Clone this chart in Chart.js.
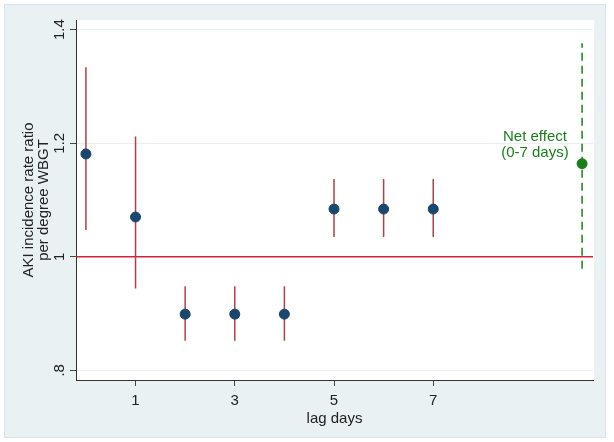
<!DOCTYPE html>
<html>
<head>
<meta charset="utf-8">
<script src="https://cdn.jsdelivr.net/npm/chart.js@4.4.1/dist/chart.umd.min.js"></script>
<style>
  html, body { margin: 0; padding: 0; background: #ffffff; }
  #wrap {
    position: absolute; left: 4px; top: 4px; width: 600px; height: 432px;
    background: #eaf1f3; border: 1px solid #d6e4ef;
  }
  #chartBox { position: absolute; left: 0; top: 0; width: 614px; height: 442px; }
</style>
</head>
<body>
<div id="wrap"></div>
<div id="chartBox"><canvas id="lagChart" width="614" height="442"></canvas></div>
<script>
// lag-specific estimates (rate ratio per degree WBGT)
const lagDays = [0, 1, 2, 3, 4, 5, 6, 7];
const irr     = [1.181, 1.070, 0.899, 0.899, 0.899, 1.084, 1.084, 1.084];
const ciLow   = [1.047, 0.944, 0.852, 0.852, 0.852, 1.035, 1.035, 1.035];
const ciHigh  = [1.334, 1.212, 0.948, 0.948, 0.948, 1.137, 1.137, 1.137];

// cumulative effect, plotted to the right
const netX = 10;
const netIrr = 1.164;
const netLow = 0.979;
const netHigh = 1.376;
const netLabel = ['Net effect', '(0-7 days)'];
const netLabelPos = { x: 9.05, y: 1.2 };

const xMin = -0.2, xMax = 10.22;
const yMin = 0.783, yMax = 1.417;
const xTicks = [1, 3, 5, 7];
const yTicks = [0.8, 1, 1.2, 1.4];
const yTickLabels = ['.8', '1', '1.2', '1.4'];
const refLine = 1;

const navy = '#1a476f';
const ciRed = '#b04048';
const refRed = '#d4223c';
const green = '#1a7f1a';
const fontFamily = '"Liberation Sans", Arial, sans-serif';

// CI segments as one line dataset broken by nulls
const ciData = [];
lagDays.forEach((d, i) => {
    ciData.push({ x: d, y: ciLow[i] }, { x: d, y: ciHigh[i] }, { x: d, y: null });
});

const plotBackground = {
    id: 'plotBackground',
    beforeDraw(chart) {
        const { ctx, chartArea } = chart;
        ctx.save();
        ctx.fillStyle = '#ffffff';
        ctx.fillRect(chartArea.left, chartArea.top, chartArea.right - chartArea.left + 1, chartArea.bottom - chartArea.top);
        ctx.restore();
    }
};

const netText = {
    id: 'netText',
    afterDatasetsDraw(chart) {
        const { ctx, scales } = chart;
        const px = scales.x.getPixelForValue(netLabelPos.x);
        const py = scales.y.getPixelForValue(netLabelPos.y);
        ctx.save();
        ctx.fillStyle = green;
        ctx.font = '15px ' + fontFamily;
        ctx.textAlign = 'center';
        ctx.textBaseline = 'middle';
        ctx.fillText(netLabel[0], px, py - 6);
        ctx.fillText(netLabel[1], px, py + 10);
        ctx.restore();
    }
};

new Chart(document.getElementById('lagChart'), {
    type: 'scatter',
    data: {
        datasets: [
            {
                type: 'line',
                data: [{ x: xMin, y: refLine }, { x: xMax, y: refLine }],
                borderColor: refRed,
                borderWidth: 1.5,
                pointRadius: 0,
                order: 5
            },
            {
                type: 'line',
                data: ciData,
                borderColor: ciRed,
                borderWidth: 1.5,
                pointRadius: 0,
                spanGaps: false,
                order: 4
            },
            {
                type: 'line',
                data: [{ x: netX, y: netLow }, { x: netX, y: netHigh }],
                borderColor: green,
                borderWidth: 1.5,
                borderDash: [8, 5],
                pointRadius: 0,
                order: 3
            },
            {
                data: lagDays.map((d, i) => ({ x: d, y: irr[i] })),
                backgroundColor: navy,
                borderColor: navy,
                pointRadius: 5,
                order: 1
            },
            {
                data: [{ x: netX, y: netIrr }],
                backgroundColor: green,
                borderColor: green,
                pointRadius: 5,
                order: 1
            }
        ]
    },
    options: {
        responsive: false,
        animation: false,
        layout: { padding: { left: 21, top: 20, right: 21, bottom: 14 } },
        plugins: { legend: { display: false }, tooltip: { enabled: false } },
        scales: {
            x: {
                type: 'linear',
                min: xMin,
                max: xMax,
                afterBuildTicks: (axis) => { axis.ticks = xTicks.map(v => ({ value: v })); },
                ticks: {
                    color: '#222',
                    font: { size: 15, family: fontFamily },
                    padding: 6,
                    maxRotation: 0
                },
                grid: { drawOnChartArea: false, drawTicks: true, tickLength: 6, tickColor: '#444' },
                border: { color: '#333', width: 1 },
                title: {
                    display: true,
                    text: 'lag days',
                    color: '#222',
                    font: { size: 15, family: fontFamily },
                    padding: { top: -6, bottom: 0 }
                }
            },
            y: {
                min: yMin,
                max: yMax,
                afterBuildTicks: (axis) => { axis.ticks = yTicks.map(v => ({ value: v })); },
                ticks: {
                    color: '#222',
                    font: { size: 15, family: fontFamily },
                    minRotation: 90,
                    maxRotation: 90,
                    crossAlign: 'center',
                    padding: 0,
                    callback: (v) => yTickLabels[yTicks.indexOf(v)]
                },
                grid: { color: '#e8f0f4', drawTicks: true, tickLength: 6, tickColor: '#444' },
                border: { color: '#333', width: 1 },
                title: {
                    display: true,
                    text: ['AKI incidence rate ratio', 'per degree WBGT'],
                    color: '#222',
                    font: { size: 15, family: fontFamily, lineHeight: 1.0 },
                    padding: { top: 0, bottom: 1 }
                }
            }
        }
    },
    plugins: [plotBackground, netText]
});
</script>
</body>
</html>
